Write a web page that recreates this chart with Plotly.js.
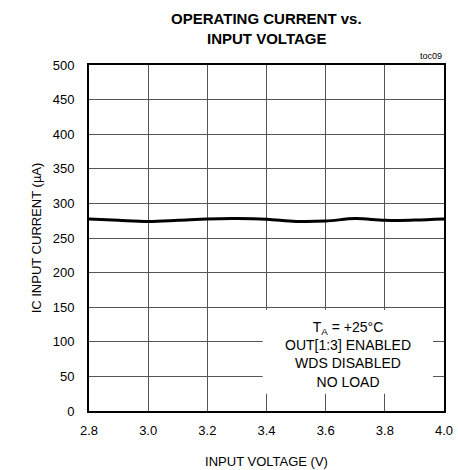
<!DOCTYPE html>
<html>
<head>
<meta charset="utf-8">
<script src="https://cdn.plot.ly/plotly-3.0.1.min.js"></script>
<style>html,body{margin:0;padding:0;background:#fff;}#chart{width:458px;height:470px;}</style>
</head>
<body>
<div id="chart"></div>
<script>
var inputVoltage = [2.8, 2.9, 3.0, 3.1, 3.2, 3.3, 3.4, 3.5, 3.6, 3.7, 3.8, 3.9, 4.0];
var icCurrent    = [277.5, 275.5, 274, 275.5, 277.5, 278, 277, 274, 274.5, 278, 275.5, 276, 277.5];
var xTicks = [2.8, 3.0, 3.2, 3.4, 3.6, 3.8, 4.0];
var xTickLabels = ['2.8', '3.0', '3.2', '3.4', '3.6', '3.8', '4.0'];
var yTicks = [0, 50, 100, 150, 200, 250, 300, 350, 400, 450, 500];
var titleLines = ['OPERATING CURRENT vs.', 'INPUT VOLTAGE'];
var noteLines = ['T<sub>A</sub> = +25°C', 'OUT[1:3] ENABLED', 'WDS DISABLED', 'NO LOAD'];

var FONT = '"Liberation Sans", Arial, sans-serif';

var trace = {
  x: inputVoltage, y: icCurrent, type: 'scatter', mode: 'lines',
  line: {color: '#000', width: 3, shape: 'spline', smoothing: 1},
  hoverinfo: 'skip'
};

var titleAnns = titleLines.map(function (t, i) {
  return {
    xref: 'paper', yref: 'paper', x: 0.5, y: 1.1358 - i * 0.0578,
    xanchor: 'center', yanchor: 'middle', showarrow: false,
    text: '<b>' + t + '</b>', font: {family: FONT, size: 15, color: '#000'}
  };
});

var layout = {
  width: 458, height: 470,
  margin: {l: 89, r: 14, t: 65, b: 59},
  paper_bgcolor: '#fff', plot_bgcolor: '#fff',
  showlegend: false,
  font: {family: FONT, color: '#000', size: 12},
  xaxis: {
    range: [2.8, 4.0], tickvals: xTicks, ticktext: xTickLabels,
    showgrid: true, gridcolor: '#555', gridwidth: 1,
    showline: true, linecolor: '#000', linewidth: 2, mirror: true,
    ticks: 'outside', ticklen: 6, tickcolor: 'rgba(0,0,0,0)',
    tickfont: {family: FONT, size: 13, color: '#000'},
    zeroline: false, fixedrange: true,
    title: {text: 'INPUT VOLTAGE (V)', font: {family: FONT, size: 13, color: '#000'}, standoff: 20}
  },
  yaxis: {
    range: [0, 500], tickvals: yTicks,
    showgrid: true, gridcolor: '#555', gridwidth: 1,
    showline: true, linecolor: '#000', linewidth: 2, mirror: true,
    ticks: 'outside', ticklen: 10, tickcolor: 'rgba(0,0,0,0)',
    tickfont: {family: FONT, size: 13, color: '#000'},
    zeroline: false, fixedrange: true,
    title: {text: 'IC INPUT CURRENT (µA)', font: {family: FONT, size: 13, color: '#000'}, standoff: 8}
  },
  shapes: [{
    type: 'rect', xref: 'x', yref: 'y', x0: 3.387, x1: 3.963, y0: 25, y1: 146,
    fillcolor: '#fff', line: {width: 0}, layer: 'above'
  }],
  annotations: titleAnns.concat([{
    xref: 'x', yref: 'y', x: 3.675, y: 81, xanchor: 'center', yanchor: 'middle',
    text: noteLines.join('<br>'), showarrow: false, align: 'center',
    font: {family: FONT, size: 14, color: '#000'}
  }, {
    xref: 'paper', yref: 'paper', x: 1, y: 1, xanchor: 'right', yanchor: 'bottom',
    yshift: 2, text: 'toc09', showarrow: false,
    font: {family: FONT, size: 9, color: '#000'}
  }])
};

Plotly.newPlot('chart', [trace], layout, {staticPlot: true, displayModeBar: false});
</script>
</body>
</html>
